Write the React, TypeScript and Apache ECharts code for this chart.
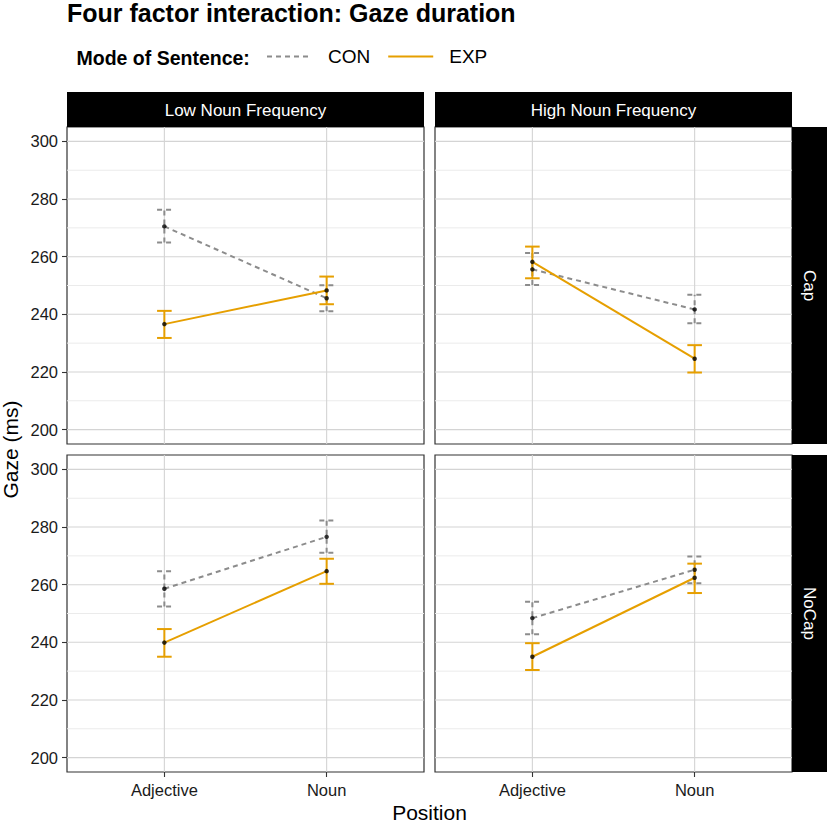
import React, { useEffect, useRef } from "react";
import * as echarts from "echarts";

// ---------- data ----------
const positions = ["Adjective", "Noun"];
const positionValues = [1, 2];
const frequencies = ["Low Noun Frequency", "High Noun Frequency"];
const capitalization = ["Cap", "NoCap"];
const modes = ["CON", "EXP"];
const yTickLabels = [200, 220, 240, 260, 280, 300];
const yMinorLines = [210, 230, 250, 270, 290];

// panels: [Cap/Low, Cap/High, NoCap/Low, NoCap/High]; each row = [Adjective, Noun]
const conMean = [
  [270.5, 245.6],
  [255.6, 241.7],
  [258.6, 276.6],
  [248.4, 265.2],
];
const conLower = [
  [264.9, 241.1],
  [250.2, 236.9],
  [252.4, 271.1],
  [242.8, 260.5],
];
const conUpper = [
  [276.3, 250.1],
  [261.3, 246.8],
  [264.7, 282.3],
  [254.1, 269.8],
];
const expMean = [
  [236.6, 248.3],
  [258.2, 224.6],
  [239.9, 264.7],
  [235.0, 262.4],
];
const expLower = [
  [231.8, 243.5],
  [252.5, 219.8],
  [235.0, 260.3],
  [230.4, 257.1],
];
const expUpper = [
  [241.2, 253.1],
  [263.5, 229.3],
  [244.6, 269.0],
  [239.7, 267.3],
];

// ---------- styles / layout ----------
const FONT = '"Liberation Sans", Arial, Helvetica, sans-serif';
const ORANGE = "#E69F00";
const GREY = "#8c8c8c";
const DASH = [5, 4];
const Y_MIN = 195;
const Y_MAX = 305;
const X_MIN = 0.4;
const X_MAX = 2.6;
const CAP_WIDTH = 0.09;

const gridRects = [
  { left: 67, top: 127, width: 357, height: 317 },
  { left: 435, top: 127, width: 357, height: 317 },
  { left: 67, top: 455, width: 357, height: 317 },
  { left: 435, top: 455, width: 357, height: 317 },
];

function buildOption() {
  const grids = gridRects.map((r) => ({
    ...r,
    show: true,
    backgroundColor: "#ffffff",
    borderColor: "#333333",
    borderWidth: 1.2,
    containLabel: false,
  }));

  const xAxes = gridRects.map((_, p) => {
    const bottom = p >= 2;
    return {
      type: "value",
      gridIndex: p,
      min: X_MIN,
      max: X_MAX,
      axisLine: { show: false },
      splitLine: { show: false },
      axisTick: {
        show: bottom,
        customValues: positionValues,
        length: 5,
        lineStyle: { color: "#333333", width: 1.1 },
      },
      axisLabel: {
        show: bottom,
        customValues: positionValues,
        formatter: (v: number) => positions[positionValues.indexOf(v)] ?? "",
        fontSize: 16.5,
        fontFamily: FONT,
        color: "#1a1a1a",
        margin: 9,
      },
    };
  });

  const yAxes = gridRects.map((_, p) => {
    const left = p % 2 === 0;
    return {
      type: "value",
      gridIndex: p,
      min: Y_MIN,
      max: Y_MAX,
      axisLine: { show: false },
      splitLine: { show: false },
      axisTick: {
        show: left,
        customValues: yTickLabels,
        length: 5,
        lineStyle: { color: "#333333", width: 1.1 },
      },
      axisLabel: {
        show: left,
        customValues: yTickLabels,
        fontSize: 16.5,
        fontFamily: FONT,
        color: "#1a1a1a",
        margin: 9,
      },
    };
  });

  const series: any[] = [];

  gridRects.forEach((_, p) => {
    // background grid lines
    const gridData: number[][] = [
      ...yTickLabels.map((v) => [0, v]),
      ...yMinorLines.map((v) => [1, v]),
      ...positionValues.map((v) => [2, v]),
    ];
    series.push({
      type: "custom",
      name: "grid" + p,
      xAxisIndex: p,
      yAxisIndex: p,
      silent: true,
      z: 1,
      data: gridData,
      renderItem: (params: any, api: any) => {
        const kind = api.value(0);
        const v = api.value(1);
        const cs = params.coordSys;
        if (kind === 2) {
          const x = api.coord([v, 250])[0];
          return {
            type: "line",
            shape: { x1: x, y1: cs.y, x2: x, y2: cs.y + cs.height },
            style: { stroke: "#d4d4d4", lineWidth: 1.1 },
          };
        }
        const y = api.coord([1, v])[1];
        return {
          type: "line",
          shape: { x1: cs.x, y1: y, x2: cs.x + cs.width, y2: y },
          style: {
            stroke: kind === 0 ? "#d4d4d4" : "#ebebeb",
            lineWidth: kind === 0 ? 1.1 : 1,
          },
        };
      },
    });

    const modeData = [
      { name: "CON", mean: conMean[p], lo: conLower[p], hi: conUpper[p], color: GREY, dashed: true },
      { name: "EXP", mean: expMean[p], lo: expLower[p], hi: expUpper[p], color: ORANGE, dashed: false },
    ];

    modeData.forEach((m) => {
      series.push({
        type: "line",
        name: m.name,
        xAxisIndex: p,
        yAxisIndex: p,
        symbol: "none",
        silent: true,
        z: 3,
        lineStyle: { color: m.color, width: 2, type: m.dashed ? DASH : "solid" },
        itemStyle: { color: m.color },
        data: positionValues.map((x, i) => [x, m.mean[i]]),
      });
      series.push({
        type: "custom",
        name: m.name + " error",
        xAxisIndex: p,
        yAxisIndex: p,
        silent: true,
        z: 4,
        encode: { x: 0, y: [1, 2] },
        data: positionValues.map((x, i) => [x, m.lo[i], m.hi[i]]),
        renderItem: (params: any, api: any) => {
          const x = api.value(0);
          const pLo = api.coord([x, api.value(1)]);
          const pHi = api.coord([x, api.value(2)]);
          const half = api.size([CAP_WIDTH, 0])[0] / 2;
          const style: any = {
            stroke: m.color,
            lineWidth: 2,
            fill: null,
            lineDash: m.dashed ? DASH : null,
          };
          return {
            type: "group",
            children: [
              { type: "line", shape: { x1: pLo[0], y1: pLo[1], x2: pHi[0], y2: pHi[1] }, style },
              { type: "line", shape: { x1: pLo[0] - half, y1: pLo[1], x2: pLo[0] + half, y2: pLo[1] }, style },
              { type: "line", shape: { x1: pHi[0] - half, y1: pHi[1], x2: pHi[0] + half, y2: pHi[1] }, style },
            ],
          };
        },
      });
    });

    series.push({
      type: "scatter",
      name: "points" + p,
      xAxisIndex: p,
      yAxisIndex: p,
      silent: true,
      z: 5,
      symbolSize: 4.5,
      itemStyle: { color: "#000000" },
      data: [
        ...positionValues.map((x, i) => [x, conMean[p][i]]),
        ...positionValues.map((x, i) => [x, expMean[p][i]]),
      ],
    });
  });

  const stripText = {
    fill: "#ffffff",
    fontSize: 17,
    fontFamily: FONT,
    align: "center",
    verticalAlign: "middle",
  };

  const graphic: any[] = [
    {
      type: "text",
      x: 67,
      y: 12.5,
      style: {
        text: "Four factor interaction: Gaze duration",
        fill: "#000000",
        fontSize: 25,
        fontWeight: "bold",
        fontFamily: FONT,
        align: "left",
        verticalAlign: "middle",
      },
    },
    {
      type: "text",
      x: 76.5,
      y: 58,
      style: {
        text: "Mode of Sentence:",
        fill: "#000000",
        fontSize: 19.5,
        fontWeight: "bold",
        fontFamily: FONT,
        align: "left",
        verticalAlign: "middle",
      },
    },
    // top strips
    { type: "rect", shape: { x: 67, y: 92, width: 357, height: 35 }, style: { fill: "#000000" } },
    { type: "rect", shape: { x: 435, y: 92, width: 357, height: 35 }, style: { fill: "#000000" } },
    { type: "text", x: 245.5, y: 110, style: { ...stripText, text: frequencies[0] } },
    { type: "text", x: 613.5, y: 110, style: { ...stripText, text: frequencies[1] } },
    // right strips
    { type: "rect", shape: { x: 792, y: 127, width: 35, height: 317 }, style: { fill: "#000000" } },
    { type: "rect", shape: { x: 792, y: 455, width: 35, height: 317 }, style: { fill: "#000000" } },
    { type: "text", x: 809.5, y: 285.5, rotation: -Math.PI / 2, style: { ...stripText, text: capitalization[0] } },
    { type: "text", x: 809.5, y: 613.5, rotation: -Math.PI / 2, style: { ...stripText, text: capitalization[1] } },
    // axis titles
    {
      type: "text",
      x: 10,
      y: 449.5,
      rotation: Math.PI / 2,
      style: {
        text: "Gaze (ms)",
        fill: "#000000",
        fontSize: 21,
        fontFamily: FONT,
        align: "center",
        verticalAlign: "middle",
      },
    },
    {
      type: "text",
      x: 429.5,
      y: 812,
      style: {
        text: "Position",
        fill: "#000000",
        fontSize: 21,
        fontFamily: FONT,
        align: "center",
        verticalAlign: "middle",
      },
    },
  ];

  return {
    animation: false,
    backgroundColor: "#ffffff",
    textStyle: { fontFamily: FONT },
    grid: grids,
    xAxis: xAxes,
    yAxis: yAxes,
    legend: {
      left: 266,
      top: 47,
      padding: 0,
      itemWidth: 45,
      itemHeight: 14,
      itemGap: 17,
      selectedMode: false,
      data: [
        { name: modes[0], itemStyle: { opacity: 0 }, lineStyle: { type: DASH, width: 2, color: GREY } },
        { name: modes[1], itemStyle: { opacity: 0 }, lineStyle: { type: "solid", width: 2, color: ORANGE } },
      ],
      textStyle: {
        fontSize: 19,
        fontFamily: FONT,
        color: "#000000",
        padding: [0, 0, 0, 11],
      },
    },
    graphic,
    series,
  };
}

export default function App() {
  const ref = useRef<HTMLDivElement>(null);
  useEffect(() => {
    if (!ref.current) return;
    const chart = echarts.init(ref.current, undefined, { renderer: "svg" });
    chart.setOption(buildOption() as any);
    return () => chart.dispose();
  }, []);
  return (
    <div
      ref={ref}
      style={{ position: "absolute", left: 0, top: 0, width: 829, height: 824 }}
    />
  );
}
